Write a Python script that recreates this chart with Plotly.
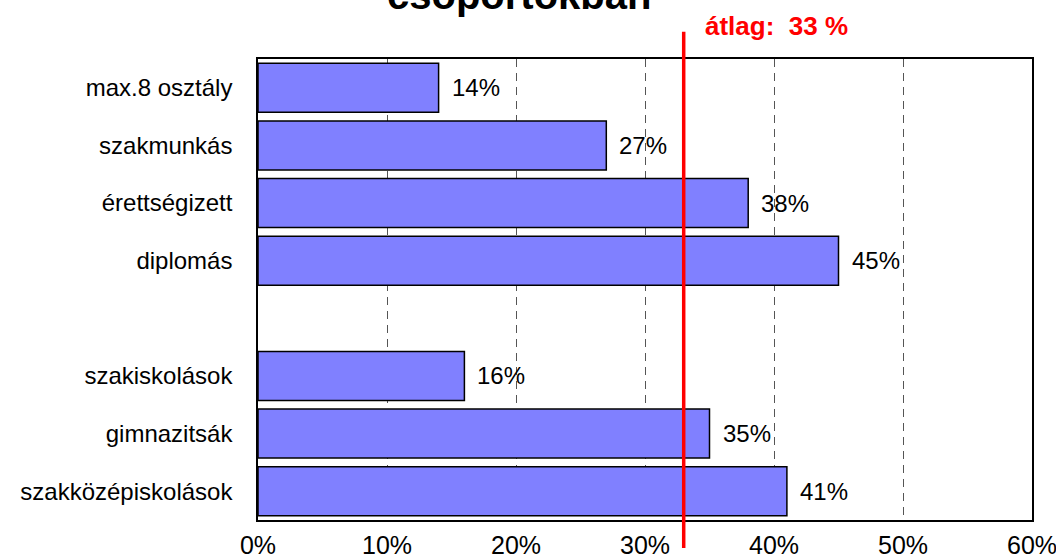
import plotly.graph_objects as go

# Share of respondents by education group (%)
categories = ["max.8 osztály", "szakmunkás", "érettségizett", "diplomás", " ",
              "szakiskolások", "gimnazitsák", "szakközépiskolások"]
values = [14, 27, 38, 45, None, 16, 35, 41]
average = 33
x_ticks = [0, 10, 20, 30, 40, 50, 60]
x_tick_labels = [f"{t}%" for t in x_ticks]

FONT = "Liberation Sans, Arial, sans-serif"

fig = go.Figure()
fig.add_trace(go.Bar(
    x=values, y=categories, orientation="h",
    marker=dict(color="#8080FF", line=dict(color="#000000", width=1.5)),
    hoverinfo="skip",
))

# value labels to the right of each bar
for cat, v in zip(categories, values):
    if v is None:
        continue
    fig.add_annotation(x=v, y=cat, xref="x", yref="y", text=f"{v}%",
                       showarrow=False, xanchor="left", xshift=11,
                       font=dict(family=FONT, size=24, color="#000000"))

# average marker line
fig.add_shape(type="line", xref="x", yref="paper",
              x0=average, x1=average, y0=-0.061, y1=1.059,
              line=dict(color="#FF0000", width=3.5), layer="above")
fig.add_annotation(x=average, y=1, xref="x", yref="paper",
                   text=f"átlag:\u00a0 {average} %", showarrow=False,
                   xanchor="left", yanchor="bottom", xshift=19, yshift=16,
                   font=dict(family=FONT, size=26, color="#FF0000", weight="bold"))

# title (last line)
fig.add_annotation(x=0.337, y=1, xref="paper", yref="paper",
                   text="csoportokban", showarrow=False,
                   xanchor="center", yanchor="bottom", yshift=40,
                   font=dict(family=FONT, size=40, color="#000000", weight="bold"))

fig.update_layout(
    width=1056, height=558,
    margin=dict(l=258, r=24, t=59, b=38, autoexpand=False),
    paper_bgcolor="#FFFFFF", plot_bgcolor="#FFFFFF",
    bargap=0.15, showlegend=False,
    font=dict(family=FONT, color="#000000"),
)
fig.update_xaxes(
    range=[0, 60], tickvals=x_ticks, ticktext=x_tick_labels,
    showgrid=True, gridcolor="#555555", gridwidth=1, griddash="8px,6px",
    zeroline=False, showline=True, linecolor="#000000", linewidth=1.5,
    mirror=True, ticks="", ticklabelstandoff=2, automargin=False,
    ticklabeloverflow="allow",
    tickfont=dict(family=FONT, size=25, color="#000000"),
)
fig.update_yaxes(
    categoryorder="array", categoryarray=categories, autorange="reversed",
    showgrid=False, zeroline=False, showline=True, linecolor="#000000",
    linewidth=1.5, mirror=True, ticks="", ticklabelstandoff=19,
    automargin=False,
    tickfont=dict(family=FONT, size=24, color="#000000"),
)

fig.write_html("out.html")
